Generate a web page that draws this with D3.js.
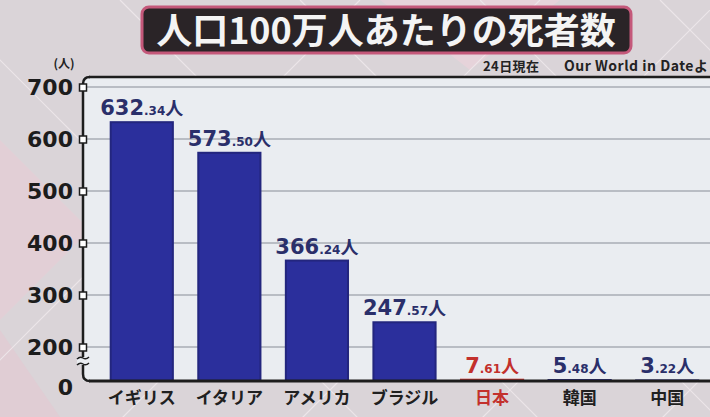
<!DOCTYPE html>
<html>
<head>
<meta charset="utf-8">
<script src="https://cdn.jsdelivr.net/npm/d3@7"></script>
<style>
  body { margin: 0; background: #d9d3d7; }
  svg { display: block; font-family: "Noto Sans CJK JP", "Noto Sans", sans-serif; }
</style>
</head>
<body>
<svg id="chart" width="710" height="417"></svg>
<script>
// data
const categories = ["イギリス", "イタリア", "アメリカ", "ブラジル", "日本", "韓国", "中国"];
const values = [632.34, 573.50, 366.24, 247.57, 7.61, 5.48, 3.22];
const yTicks = [0, 200, 300, 400, 500, 600, 700];
const highlight = "日本";
const title = "人口100万人あたりの死者数";
const sourceDate = "24日現在";
const sourceName = "Our World in Dateよ";

const W = 710, H = 417;
const pLeft = 83, pRight = 710, pTop = 77, pBottom = 381;
const numFont = "'DejaVu Sans', sans-serif";
const svg = d3.select("#chart");

// backdrop with faint diagonal lattice
svg.append("rect").attr("width", W).attr("height", H).attr("fill", "#dad4d8");
const bg = svg.append("g");
bg.append("polygon").attr("points", "0,140 90,230 0,320").attr("fill", "#e2cfd6");
bg.append("polygon").attr("points", "380,0 560,0 470,70").attr("fill", "#e6d3da");
bg.append("polygon").attr("points", "0,330 60,417 0,417").attr("fill", "#e0cdd4");
[-60, 120, 300, 480, 660].forEach(x0 => {
  bg.append("line").attr("x1", x0).attr("y1", 0).attr("x2", x0 + 420).attr("y2", 420)
    .attr("stroke", "#ece6e9").attr("stroke-width", 1.2);
  bg.append("line").attr("x1", x0 + 420).attr("y1", 0).attr("x2", x0).attr("y2", 420)
    .attr("stroke", "#ece6e9").attr("stroke-width", 1.2);
});

// title plate
svg.append("rect")
  .attr("x", 142).attr("y", 7).attr("width", 489).attr("height", 46).attr("rx", 7)
  .attr("fill", "#2a2427").attr("stroke", "#c4587a").attr("stroke-width", 3);
svg.append("text")
  .attr("x", 386).attr("y", 44).attr("text-anchor", "middle")
  .attr("font-size", 36).attr("font-weight", "bold").attr("fill", "#f4f4f4")
  .text(title);

// source line
svg.append("text").attr("x", 483).attr("y", 71)
  .attr("font-size", 13).attr("font-weight", "bold").attr("fill", "#222")
  .attr("textLength", 56).text(sourceDate);
svg.append("text").attr("x", 564).attr("y", 71)
  .attr("font-size", 14).attr("font-weight", "bold").attr("fill", "#222")
  .attr("textLength", 144).text(sourceName);

// plot panel
svg.append("rect")
  .attr("x", pLeft).attr("y", pTop).attr("width", pRight - pLeft).attr("height", pBottom - pTop)
  .attr("fill", "#eaedf1");

const x = d3.scaleBand().domain(categories).range([98, 711]).paddingInner(0.29).paddingOuter(0.145);
const y = d3.scaleLinear().domain([0, 200, 700]).range([pBottom, 347, 87]);

// grid
svg.append("g").selectAll("line").data(yTicks.filter(d => d > 0)).join("line")
  .attr("x1", pLeft).attr("x2", pRight)
  .attr("y1", d => y(d)).attr("y2", d => y(d))
  .attr("stroke", "#a9adb4").attr("stroke-width", 1.5);

// top border
svg.append("line").attr("x1", pLeft + 6).attr("x2", pRight).attr("y1", pTop).attr("y2", pTop)
  .attr("stroke", "#1d1d1d").attr("stroke-width", 2.5);

// bars
const data = categories.map((c, i) => ({ c, v: values[i] }));
svg.append("g").selectAll("rect").data(data).join("rect")
  .attr("x", d => x(d.c)).attr("width", x.bandwidth())
  .attr("y", d => y(d.v)).attr("height", d => y(0) - y(d.v))
  .attr("fill", d => d.c === highlight ? "#c8332e" : "#2b2f9c")
  .attr("stroke", d => d.c === highlight ? "#c8332e" : "#23267e")
  .attr("stroke-width", 2);

// value labels
const vl = svg.append("g").selectAll("text").data(data).join("text")
  .attr("x", d => x(d.c) + x.bandwidth() / 2)
  .attr("y", d => y(d.v) - 7)
  .attr("text-anchor", "middle")
  .attr("fill", d => d.c === highlight ? "#c3302c" : "#2a2f6a");
vl.append("tspan").attr("font-size", 21).attr("font-weight", "bold").attr("font-family", numFont)
  .text(d => d.v.toFixed(2).split(".")[0]);
vl.append("tspan").attr("font-size", 12).attr("font-weight", "bold").attr("font-family", numFont)
  .text(d => "." + d.v.toFixed(2).split(".")[1]);
vl.append("tspan").attr("font-size", 18).attr("font-weight", "bold").text("人");

// x axis category labels
const xAxis = svg.append("g").attr("transform", `translate(0,${pBottom})`)
  .call(d3.axisBottom(x).tickSize(0).tickPadding(11));
xAxis.select(".domain").remove();
xAxis.selectAll("text")
  .attr("font-size", 17).attr("font-weight", "bold")
  .attr("font-family", "'Noto Sans CJK JP', sans-serif")
  .attr("fill", d => d === highlight ? "#c3302c" : "#202020");

// left axis frame with rounded corners, baseline
svg.append("path")
  .attr("d", `M${pLeft + 7},${pTop} Q${pLeft},${pTop} ${pLeft},${pTop + 7} L${pLeft},${pBottom - 7} Q${pLeft},${pBottom} ${pLeft + 7},${pBottom}`)
  .attr("fill", "none").attr("stroke", "#1d1d1d").attr("stroke-width", 2.5);
svg.append("line").attr("x1", pLeft + 6).attr("x2", pRight).attr("y1", pBottom).attr("y2", pBottom)
  .attr("stroke", "#1d1d1d").attr("stroke-width", 3);

// axis break
svg.append("rect").attr("x", pLeft - 6).attr("y", 357).attr("width", 12).attr("height", 8).attr("fill", "#eaedf1");
[358, 364].forEach(yy => {
  svg.append("path")
    .attr("d", `M${pLeft - 6},${yy + 1} Q${pLeft - 3},${yy - 2} ${pLeft},${yy} T${pLeft + 6},${yy - 1}`)
    .attr("fill", "none").attr("stroke", "#1d1d1d").attr("stroke-width", 1.5);
});

// y axis labels and square tick marks
const yAxis = svg.append("g").attr("transform", `translate(${pLeft},0)`)
  .call(d3.axisLeft(y).tickValues(yTicks).tickSize(0).tickPadding(10));
yAxis.select(".domain").remove();
yAxis.selectAll("text")
  .attr("font-size", 22).attr("font-weight", "bold")
  .attr("font-family", numFont)
  .attr("fill", "#1c1c1c")
  .attr("dy", d => d === 0 ? "0.6em" : "0.36em");
yAxis.selectAll(".tick").filter(d => d > 0).append("rect")
  .attr("x", -3.5).attr("y", -3.5).attr("width", 7).attr("height", 7)
  .attr("fill", "#fff").attr("stroke", "#1d1d1d").attr("stroke-width", 1.5);

// unit
svg.append("text").attr("x", 64).attr("y", 68).attr("text-anchor", "middle")
  .attr("font-size", 12).attr("font-weight", "bold").attr("fill", "#222").text("(人)");
</script>
</body>
</html>
